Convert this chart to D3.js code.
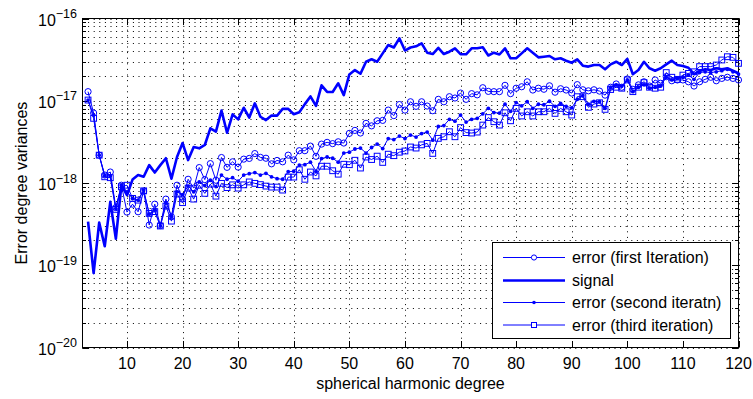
<!DOCTYPE html>
<html>
<head>
<meta charset="utf-8">
<script src="https://cdn.jsdelivr.net/npm/d3@7"></script>
<style>
  body { margin: 0; background: #fff; }
  svg text { font-family: "Liberation Sans", Arial, Helvetica, sans-serif; fill: #000; }
</style>
</head>
<body>
<svg id="chart" width="753" height="399"></svg>
<script>
// Spherical harmonic degrees 3..120
const degrees = d3.range(3, 121);

// Signal degree variances
const signal = [
  3.4e-19, 8.0e-20, 3.3e-19, 1.7e-19, 5.9e-19, 2.1e-19, 9.4e-19, 7.1e-19, 1.1e-18, 1.25e-18,
  1.19e-18, 1.65e-18, 1.34e-18, 1.65e-18, 2.0e-18, 1.13e-18, 2.07e-18, 3.06e-18, 1.9e-18, 2.74e-18,
  2.64e-18, 2.9e-18, 4.62e-18, 4.22e-18, 7.6e-18, 4.08e-18, 6.83e-18, 5.94e-18, 8.22e-18, 6.25e-18,
  9.3e-18, 6.39e-18, 5.82e-18, 6.6e-18, 6.6e-18, 7.97e-18, 7.97e-18, 6.85e-18, 7.25e-18, 9.1e-18,
  1.13e-17, 8.67e-18, 1.54e-17, 1.28e-17, 1.28e-17, 1.63e-17, 1.17e-17, 2.09e-17, 2.36e-17, 2.13e-17,
  2.98e-17, 3.19e-17, 2.98e-17, 3.77e-17, 4.76e-17, 4.44e-17, 5.74e-17, 4.08e-17, 4.44e-17, 4.59e-17,
  4.99e-17, 3.84e-17, 3.7e-17, 4.4e-17, 3.7e-17, 3.95e-17, 4.34e-17, 3.68e-17, 3.67e-17, 4.34e-17,
  4.34e-17, 4.47e-17, 3.55e-17, 3.84e-17, 3.65e-17, 4.34e-17, 3.28e-17, 3.28e-17, 3.77e-17, 4.34e-17,
  3.84e-17, 3.37e-17, 3.43e-17, 3.5e-17, 3.19e-17, 3.28e-17, 3.07e-17, 2.9e-17, 3.19e-17, 2.67e-17,
  2.6e-17, 2.72e-17, 2.72e-17, 2.41e-17, 2.77e-17, 2.98e-17, 2.72e-17, 3.22e-17, 2.1e-17, 2.36e-17,
  2.98e-17, 2.48e-17, 2.32e-17, 2.48e-17, 2.77e-17, 3.07e-17, 2.72e-17, 2.65e-17, 2.52e-17, 2.11e-17,
  2.3e-17, 2.41e-17, 2.36e-17, 2.48e-17, 2.41e-17, 2.48e-17, 2.32e-17, 2.16e-17
];

// Error degree variances, first iteration
const errFirst = [
  1.29e-17, 7.09e-18, 2.18e-18, 1.25e-18, 1.36e-18, 5.02e-19, 9.4e-19, 4.43e-19, 5.53e-19, 4.47e-19,
  7.97e-19, 3.08e-19, 5.53e-19, 3.04e-19, 6.37e-19, 3.88e-19, 9.4e-19, 6.37e-19, 1.11e-18, 8.67e-19,
  1.54e-18, 1.1e-18, 1.72e-18, 1.08e-18, 2.04e-18, 1.55e-18, 1.81e-18, 1.56e-18, 1.95e-18, 1.99e-18,
  2.28e-18, 2.05e-18, 2.0e-18, 1.71e-18, 1.88e-18, 1.81e-18, 2.18e-18, 1.91e-18, 2.47e-18, 2.47e-18,
  2.81e-18, 2.11e-18, 2.97e-18, 3.12e-18, 3.01e-18, 3.17e-18, 3.06e-18, 4.01e-18, 4.36e-18, 4.05e-18,
  5.31e-18, 4.95e-18, 5.71e-18, 5.77e-18, 7.7e-18, 6.6e-18, 8.99e-18, 7.7e-18, 9.72e-18, 8.55e-18,
  9.72e-18, 8.62e-18, 7.56e-18, 1.04e-17, 9.72e-18, 1.12e-17, 1.08e-17, 1.24e-17, 1.04e-17, 1.22e-17,
  1.18e-17, 1.44e-17, 1.3e-17, 1.29e-17, 1.29e-17, 1.54e-17, 1.22e-17, 1.42e-17, 1.48e-17, 1.7e-17,
  1.35e-17, 1.42e-17, 1.38e-17, 1.52e-17, 1.27e-17, 1.4e-17, 1.35e-17, 1.24e-17, 1.57e-17, 1.36e-17,
  1.32e-17, 1.36e-17, 1.31e-17, 1.17e-17, 1.46e-17, 1.6e-17, 1.46e-17, 1.84e-17, 1.38e-17, 1.56e-17,
  1.7e-17, 1.51e-17, 1.79e-17, 1.63e-17, 1.96e-17, 1.75e-17, 1.79e-17, 1.79e-17, 1.7e-17, 1.51e-17,
  1.7e-17, 1.82e-17, 1.93e-17, 1.75e-17, 1.87e-17, 1.93e-17, 1.87e-17, 1.79e-17
];

// Error degree variances, second iteration
const errSecond = [
  1.02e-17, 6.7e-18, 2.18e-18, 1.22e-18, 1.22e-18, 4.9e-19, 9.4e-19, 7.82e-19, 6.5e-19, 6.19e-19,
  8.2e-19, 4.18e-19, 4.68e-19, 3.0e-19, 5.77e-19, 3.93e-19, 7.82e-19, 7.23e-19, 9.17e-19, 7.82e-19,
  1.03e-18, 9.3e-19, 1.08e-18, 9.04e-19, 1.25e-18, 1.11e-18, 1.16e-18, 1.05e-18, 1.25e-18, 1.3e-18,
  1.34e-18, 1.25e-18, 1.31e-18, 1.19e-18, 1.13e-18, 1.11e-18, 1.37e-18, 1.39e-18, 1.65e-18, 1.67e-18,
  1.79e-18, 1.39e-18, 1.98e-18, 2.07e-18, 2.0e-18, 1.79e-18, 2.31e-18, 2.37e-18, 2.59e-18, 2.66e-18,
  2.31e-18, 2.7e-18, 2.97e-18, 2.62e-18, 3.47e-18, 3.37e-18, 3.72e-18, 3.47e-18, 3.83e-18, 3.62e-18,
  3.99e-18, 4.16e-18, 3.32e-18, 4.86e-18, 4.99e-18, 5.94e-18, 5.65e-18, 6.7e-18, 5.5e-18, 5.95e-18,
  6.11e-18, 6.94e-18, 8.08e-18, 7.19e-18, 7.09e-18, 9.07e-18, 7.43e-18, 9.5e-18, 8.67e-18, 9.72e-18,
  8.08e-18, 9.07e-18, 8.94e-18, 9.86e-18, 8.55e-18, 9.3e-18, 8.55e-18, 8.2e-18, 1.04e-17, 1.15e-17,
  9.07e-18, 9.83e-18, 9.72e-18, 8.08e-18, 1.46e-17, 1.56e-17, 1.51e-17, 1.79e-17, 1.29e-17, 1.46e-17,
  1.56e-17, 1.42e-17, 1.46e-17, 1.51e-17, 1.93e-17, 1.79e-17, 1.87e-17, 1.93e-17, 2.05e-17, 1.82e-17,
  2.2e-17, 2.25e-17, 2.2e-17, 2.25e-17, 2.32e-17, 2.41e-17, 2.25e-17, 2.11e-17
];

// Error degree variances, third iteration
const errThird = [
  1.02e-17, 6.11e-18, 2.18e-18, 1.19e-18, 1.16e-18, 4.78e-19, 8.99e-19, 9.4e-19, 6.5e-19, 6.19e-19,
  8.03e-19, 4.27e-19, 4.49e-19, 3.0e-19, 5.24e-19, 3.44e-19, 7.34e-19, 5.77e-19, 8.67e-19, 6.37e-19,
  9.4e-19, 7.48e-19, 9.7e-19, 6.92e-19, 9.9e-19, 8.79e-19, 9.5e-19, 8.67e-19, 9.5e-19, 1.03e-18,
  9.9e-19, 9.56e-19, 9.17e-19, 8.92e-19, 8.92e-19, 8.2e-19, 1.18e-18, 1.18e-18, 1.45e-18, 1.11e-18,
  1.36e-18, 1.22e-18, 1.6e-18, 1.6e-18, 1.41e-18, 1.28e-18, 1.69e-18, 1.67e-18, 1.89e-18, 1.52e-18,
  2.07e-18, 1.93e-18, 2.12e-18, 1.78e-18, 2.24e-18, 2.15e-18, 2.37e-18, 2.45e-18, 2.74e-18, 2.66e-18,
  2.91e-18, 3.03e-18, 2.29e-18, 3.49e-18, 3.65e-18, 4.2e-18, 3.65e-18, 4.72e-18, 4.1e-18, 4.05e-18,
  4.16e-18, 5.06e-18, 6.25e-18, 5.56e-18, 5.06e-18, 7.14e-18, 5.71e-18, 8.08e-18, 6.53e-18, 7.35e-18,
  6.53e-18, 7.35e-18, 7.35e-18, 8.08e-18, 7.02e-18, 8.08e-18, 7.35e-18, 6.7e-18, 1.12e-17, 1.12e-17,
  8.32e-18, 9.12e-18, 9.45e-18, 7.86e-18, 1.37e-17, 1.46e-17, 1.42e-17, 1.79e-17, 1.29e-17, 1.46e-17,
  1.66e-17, 1.46e-17, 1.42e-17, 1.46e-17, 2.2e-17, 1.93e-17, 1.82e-17, 2.05e-17, 2.15e-17, 2.25e-17,
  2.6e-17, 2.6e-17, 2.6e-17, 2.72e-17, 3.13e-17, 3.43e-17, 3.37e-17, 2.85e-17
];

const xTicks = [10, 20, 30, 40, 50, 60, 70, 80, 90, 100, 110, 120];
const yExponents = [-20, -19, -18, -17, -16];
const legendLabels = ["error (first Iteration)", "signal", "error (second iteratn)", "error (third iteration)"];

const blue = "#0000ff";
const margin = { left: 82.5, right: 738.5, top: 18.5, bottom: 347.5 };

const svg = d3.select("#chart");

const x = d3.scaleLinear().domain([2, 120]).range([margin.left, margin.right]);
const y = d3.scaleLog().domain([1e-20, 1e-16]).range([margin.bottom, margin.top]);

// minor/major log positions: 1..9 x 10^e
const logGrid = [];
for (let e = -20; e < -16; e++) for (let m = 1; m <= 9; m++) logGrid.push(m * Math.pow(10, e));
logGrid.push(1e-16);

// dotted grid
const grid = svg.append("g").attr("stroke", "#000").attr("stroke-width", 1)
  .attr("stroke-dasharray", "1,4.6").attr("fill", "none");
grid.selectAll("line.h").data(logGrid).join("line").attr("class", "h")
  .attr("x1", margin.left).attr("x2", margin.right)
  .attr("y1", d => Math.round(y(d)) + 0.5).attr("y2", d => Math.round(y(d)) + 0.5);
grid.selectAll("line.v").data(xTicks).join("line").attr("class", "v")
  .attr("x1", d => Math.round(x(d)) + 0.5).attr("x2", d => Math.round(x(d)) + 0.5)
  .attr("y1", margin.top).attr("y2", margin.bottom);

// axes with inward ticks on all four sides
const axes = svg.append("g").attr("stroke", "#000").attr("stroke-width", 1).attr("fill", "none");
const isMajor = d => Math.abs(Math.log10(d) - Math.round(Math.log10(d))) < 1e-9;
logGrid.forEach(d => {
  const yy = Math.round(y(d)) + 0.5;
  const len = isMajor(d) ? 6.5 : 3.5;
  axes.append("line").attr("x1", margin.left).attr("x2", margin.left + len).attr("y1", yy).attr("y2", yy);
  axes.append("line").attr("x1", margin.right - len).attr("x2", margin.right).attr("y1", yy).attr("y2", yy);
});
xTicks.forEach(d => {
  const xx = Math.round(x(d)) + 0.5;
  axes.append("line").attr("x1", xx).attr("x2", xx).attr("y1", margin.bottom).attr("y2", margin.bottom - 6.5);
  axes.append("line").attr("x1", xx).attr("x2", xx).attr("y1", margin.top).attr("y2", margin.top + 6.5);
});
axes.append("rect").attr("x", margin.left).attr("y", margin.top)
  .attr("width", margin.right - margin.left).attr("height", margin.bottom - margin.top);

// tick labels
svg.append("g").selectAll("text").data(xTicks).join("text")
  .attr("x", d => x(d)).attr("y", 368.5).attr("text-anchor", "middle")
  .attr("font-size", 16).text(d => d);

const yl = svg.append("g").selectAll("text").data(yExponents).join("text")
  .attr("x", 77).attr("y", d => y(Math.pow(10, d)) + 7).attr("text-anchor", "end").attr("font-size", 16);
yl.append("tspan").text("10");
yl.append("tspan").attr("dy", -7.5).attr("font-size", 12.5).text(d => "\u2212" + Math.abs(d));

// axis titles
svg.append("text").attr("x", (margin.left + margin.right) / 2).attr("y", 388.5)
  .attr("text-anchor", "middle").attr("font-size", 16).text("spherical harmonic degree");
svg.append("text").attr("transform", `translate(27,${(margin.top + margin.bottom) / 2}) rotate(-90)`)
  .attr("text-anchor", "middle").attr("font-size", 16).text("Error degree variances");

// series
const plot = svg.append("g");
const line = vals => d3.line().x((d, i) => x(degrees[i])).y(d => y(d))(vals);

function drawSeries(vals, width, marker) {
  const g = plot.append("g");
  g.append("path").attr("d", line(vals)).attr("fill", "none").attr("stroke", blue)
    .attr("stroke-width", width).attr("stroke-linejoin", "round");
  if (marker === "circle") {
    g.selectAll("circle").data(vals).join("circle")
      .attr("cx", (d, i) => x(degrees[i])).attr("cy", d => y(d)).attr("r", 3.1)
      .attr("fill", "none").attr("stroke", blue).attr("stroke-width", 1);
  } else if (marker === "dot") {
    g.selectAll("circle").data(vals).join("circle")
      .attr("cx", (d, i) => x(degrees[i])).attr("cy", d => y(d)).attr("r", 1.9)
      .attr("fill", blue).attr("stroke", "none");
  } else if (marker === "square") {
    g.selectAll("rect").data(vals).join("rect")
      .attr("x", (d, i) => x(degrees[i]) - 2.9).attr("y", d => y(d) - 2.9)
      .attr("width", 5.8).attr("height", 5.8)
      .attr("fill", "none").attr("stroke", blue).attr("stroke-width", 1);
  }
}
drawSeries(errFirst, 1, "circle");
drawSeries(signal, 2.6, null);
drawSeries(errSecond, 1, "dot");
drawSeries(errThird, 1, "square");

// legend
const lg = svg.append("g");
lg.append("rect").attr("x", 492.5).attr("y", 242.5).attr("width", 238).attr("height", 96)
  .attr("fill", "#fff").attr("stroke", "#000").attr("stroke-width", 1);
const legendRows = [257.5, 280.5, 302.5, 325];
const legendStyles = [
  { w: 1, m: "circle" }, { w: 2.6, m: null }, { w: 1, m: "dot" }, { w: 1, m: "square" }
];
legendLabels.forEach((lab, i) => {
  const yy = legendRows[i];
  const st = legendStyles[i];
  lg.append("line").attr("x1", 503).attr("x2", 565).attr("y1", yy).attr("y2", yy)
    .attr("stroke", blue).attr("stroke-width", st.w);
  if (st.m === "circle") lg.append("circle").attr("cx", 534).attr("cy", yy).attr("r", 2.6)
    .attr("fill", "#fff").attr("stroke", blue);
  if (st.m === "dot") lg.append("circle").attr("cx", 534).attr("cy", yy).attr("r", 1.8).attr("fill", blue);
  if (st.m === "square") lg.append("rect").attr("x", 531.5).attr("y", yy - 2.5).attr("width", 5).attr("height", 5)
    .attr("fill", "#fff").attr("stroke", blue);
  lg.append("text").attr("x", 572).attr("y", yy + 5.7).attr("font-size", 16).text(lab);
});
</script>
</body>
</html>
